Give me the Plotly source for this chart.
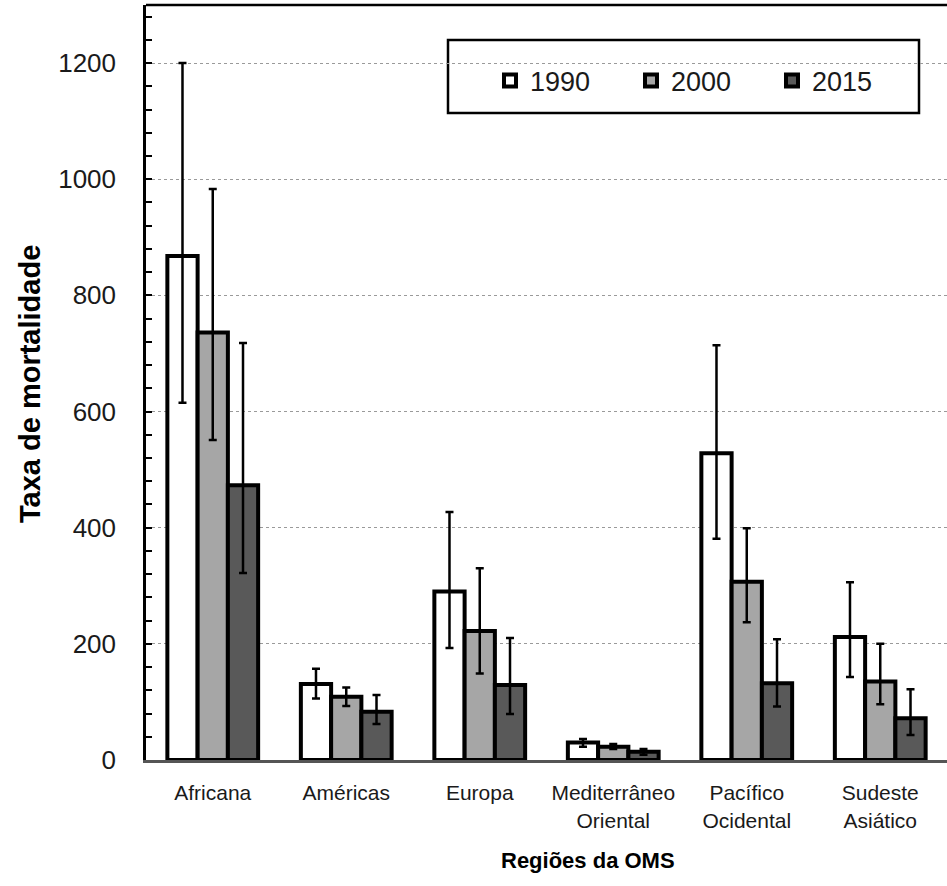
import plotly.graph_objects as go

# Mortality rate by WHO region, with confidence interval bounds
regioes = ["Africana", "Américas", "Europa", "Mediterrâneo<br>Oriental",
           "Pacífico<br>Ocidental", "Sudeste<br>Asiático"]
anos = ["1990", "2000", "2015"]

taxa_1990 = [868, 131, 290, 30, 528, 212]
taxa_2000 = [736, 109, 222, 23, 307, 135]
taxa_2015 = [473, 83, 129, 14, 132, 72]

sup_1990 = [1200, 157, 427, 36, 714, 306]
sup_2000 = [983, 125, 330, 27.5, 399, 200]
sup_2015 = [718, 112, 210, 19, 208, 122]

inf_1990 = [615, 106, 193, 23, 381, 143]
inf_2000 = [551, 93, 149, 19, 237, 96]
inf_2015 = [322, 62, 79, 9, 92, 43]

y_ticks = [0, 200, 400, 600, 800, 1000, 1200]

series = [
    (anos[0], taxa_1990, sup_1990, inf_1990, "#ffffff"),
    (anos[1], taxa_2000, sup_2000, inf_2000, "#a6a6a6"),
    (anos[2], taxa_2015, sup_2015, inf_2015, "#595959"),
]

fig = go.Figure()
for nome, vals, sup, inf, cor in series:
    fig.add_trace(go.Bar(
        name=nome,
        x=regioes,
        y=vals,
        marker=dict(color=cor, line=dict(color="#000000", width=4)),
        error_y=dict(
            type="data",
            symmetric=False,
            array=[s - v for s, v in zip(sup, vals)],
            arrayminus=[v - i for v, i in zip(vals, inf)],
            color="#000000",
            thickness=2.5,
            width=4,
        ),
    ))

W, H = 947, 886
L, R, T, B = 146, 0, 5, 126

fig.update_layout(
    width=W, height=H,
    margin=dict(l=L, r=R, t=T, b=B, pad=0, autoexpand=False),
    paper_bgcolor="#ffffff",
    plot_bgcolor="#ffffff",
    barmode="group",
    bargap=0.32,
    bargroupgap=0,
    font=dict(family="Liberation Sans, Arial, sans-serif", color="#1a1a1a"),
    showlegend=True,
    legend=dict(
        orientation="h",
        x=(490 - L) / (W - L - R),
        y=(H - T - 76 - B) / (H - T - B),
        xanchor="left",
        yanchor="middle",
        bgcolor="rgba(0,0,0,0)",
        borderwidth=0,
        font=dict(size=27, color="#1a1a1a"),
        entrywidth=96,
        traceorder="normal",
    ),
    xaxis=dict(
        showgrid=False,
        showline=True,
        linecolor="#555555",
        linewidth=3,
        ticks="",
        tickfont=dict(size=21, color="#1a1a1a"),
        ticklabelstandoff=12,
        automargin=False,
    ),
    yaxis=dict(
        range=[0, 1300],
        tickvals=y_ticks,
        showline=True,
        linecolor="#000000",
        linewidth=2.5,
        ticks="inside",
        ticklen=6,
        tickwidth=2,
        tickcolor="#000000",
        tickfont=dict(size=26, color="#1a1a1a"),
        ticklabelstandoff=22,
        showgrid=True,
        gridcolor="#9a9a9a",
        gridwidth=1,
        griddash="dot",
        zeroline=False,
        minor=dict(dtick=40, ticks="inside", ticklen=6, tickwidth=2,
                   tickcolor="#000000", showgrid=False),
        automargin=False,
    ),
    shapes=[
        # top frame line
        dict(type="line", xref="paper", yref="paper", x0=0, x1=1, y0=1, y1=1,
             line=dict(color="#000000", width=2.5)),
        # legend box
        dict(type="rect", xref="paper", yref="paper",
             x0=(448 - L) / (W - L - R), x1=(919 - L) / (W - L - R),
             y0=(H - B - 113) / (H - T - B), y1=(H - B - 40) / (H - T - B),
             line=dict(color="#000000", width=2.5), fillcolor="#ffffff",
             layer="below"),
    ],
    annotations=[
        dict(text="<b>Regiões da OMS</b>", xref="paper", yref="paper",
             x=(588 - L) / (W - L - R), y=(H - B - 860) / (H - T - B),
             xanchor="center", yanchor="middle", showarrow=False,
             font=dict(size=22, color="#000000")),
        dict(text="<b>Taxa de mortalidade</b>", xref="paper", yref="paper",
             x=(30 - L) / (W - L - R), y=(H - B - 384) / (H - T - B),
             xanchor="center", yanchor="middle", showarrow=False, textangle=-90,
             font=dict(size=29, color="#000000")),
    ],
)

fig.write_html("out.html")
